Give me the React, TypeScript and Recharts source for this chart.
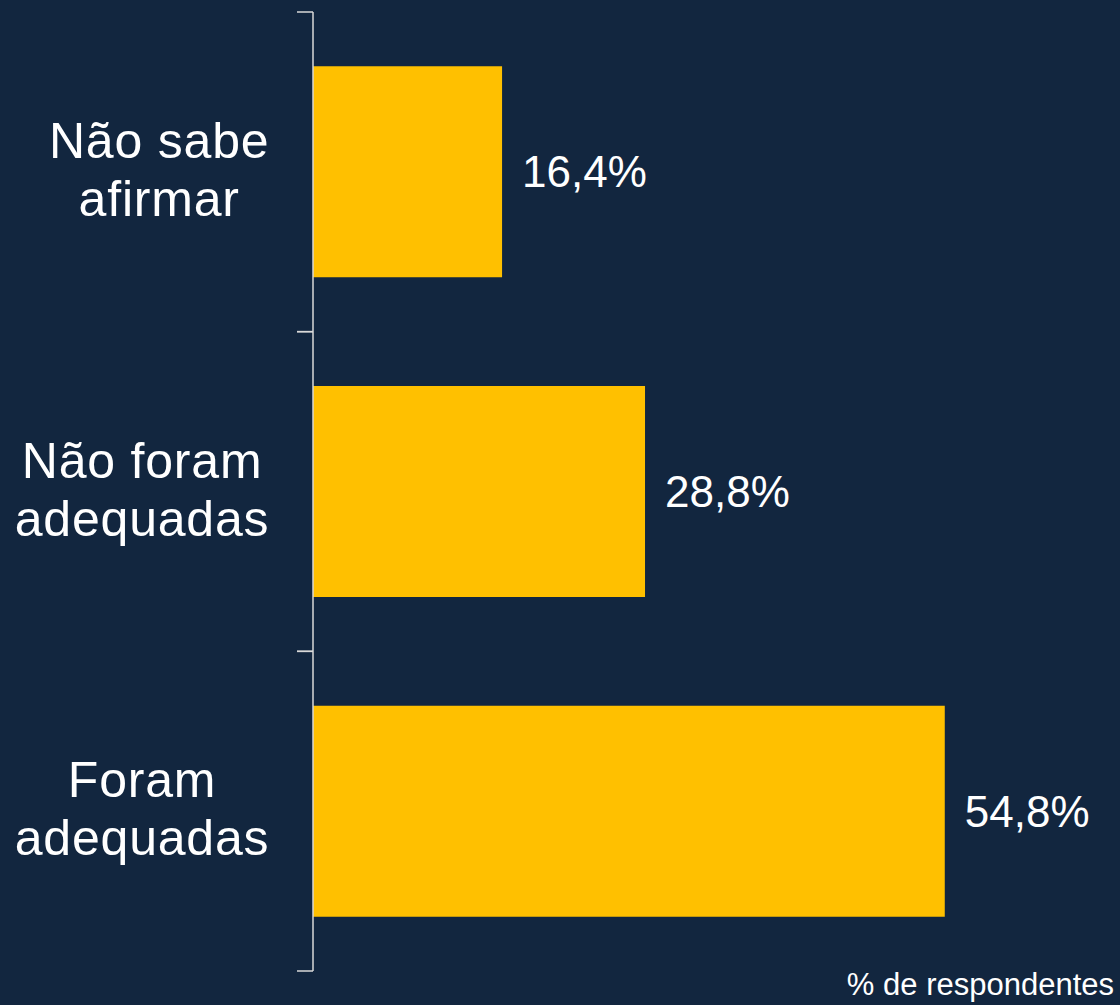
import React from 'react';
import { BarChart, Bar, XAxis, YAxis, LabelList } from 'recharts';

const categories = ['Não sabe\nafirmar', 'Não foram\nadequadas', 'Foram\nadequadas'];
const shares = [16.4, 28.8, 54.8];
const xTicks = [0, 70];
const footnote = '% de respondentes';

const chartData = categories.map((name, i) => ({ name, value: shares[i] }));

const BG = '#12263f';
const BAR = '#ffc000';
const AXIS = '#d9d9d9';
const FONT = '"Liberation Sans", Arial, sans-serif';

let ctx: CanvasRenderingContext2D | null = null;
const measure = (s: string, size: number, spacing: number) => {
  if (!ctx) ctx = document.createElement('canvas').getContext('2d');
  if (!ctx) return s.length * size * 0.5;
  ctx.font = `${size}px ${FONT}`;
  return ctx.measureText(s).width + spacing * (s.length - 1);
};

const CategoryTick = (props: any) => {
  const { x, y, payload } = props;
  const half = payload?.offset ?? 159.8;
  const lines = String(payload.value).split('\n');
  const size = 50;
  const ls = 0.8;
  const lh = 58;
  const maxW = Math.max(...lines.map((l) => measure(l, size, ls)));
  const cx = x - 44 - maxW / 2;
  return (
    <g>
      <line x1={x - 16} x2={x} y1={y - half} y2={y - half} stroke={AXIS} strokeWidth={1.5} />
      <line x1={x - 16} x2={x} y1={y + half} y2={y + half} stroke={AXIS} strokeWidth={1.5} />
      {lines.map((l, i) => (
        <text
          key={i}
          x={cx}
          y={y + (i - (lines.length - 1) / 2) * lh + 15}
          textAnchor="middle"
          fill="#ffffff"
          fontSize={size}
          letterSpacing={ls}
          fontFamily={FONT}
        >
          {l}
        </text>
      ))}
    </g>
  );
};

const App: React.FC = () => {
  return (
    <div style={{ width: 1120, height: 1005, background: BG, position: 'relative', overflow: 'hidden' }}>
      <style>{`body{margin:0;background:${BG}}`}</style>
      <BarChart
        width={1120}
        height={1005}
        data={chartData}
        layout="vertical"
        margin={{ top: 12, right: 0, bottom: 34, left: 0 }}
        barCategoryGap="17%"
      >
        <XAxis type="number" domain={[0, 70]} ticks={xTicks} hide />
        <YAxis
          type="category"
          dataKey="name"
          width={313}
          axisLine={{ stroke: AXIS, strokeWidth: 1.5 }}
          tickLine={false}
          tickSize={0}
          tickMargin={0}
          tick={<CategoryTick />}
          interval={0}
        />
        <Bar dataKey="value" fill={BAR} isAnimationActive={false}>
          <LabelList
            dataKey="value"
            position="right"
            offset={20}
            fill="#ffffff"
            fontSize={44}
            fontFamily={FONT}
            formatter={(v: any) => `${Number(v).toFixed(1).replace('.', ',')}%`}
          />
        </Bar>
      </BarChart>
      <div
        style={{
          position: 'absolute',
          right: 6,
          top: 967,
          color: '#ffffff',
          fontFamily: FONT,
          fontSize: 31,
          lineHeight: '36px',
          whiteSpace: 'nowrap',
        }}
      >
        {footnote}
      </div>
    </div>
  );
};

export default App;
